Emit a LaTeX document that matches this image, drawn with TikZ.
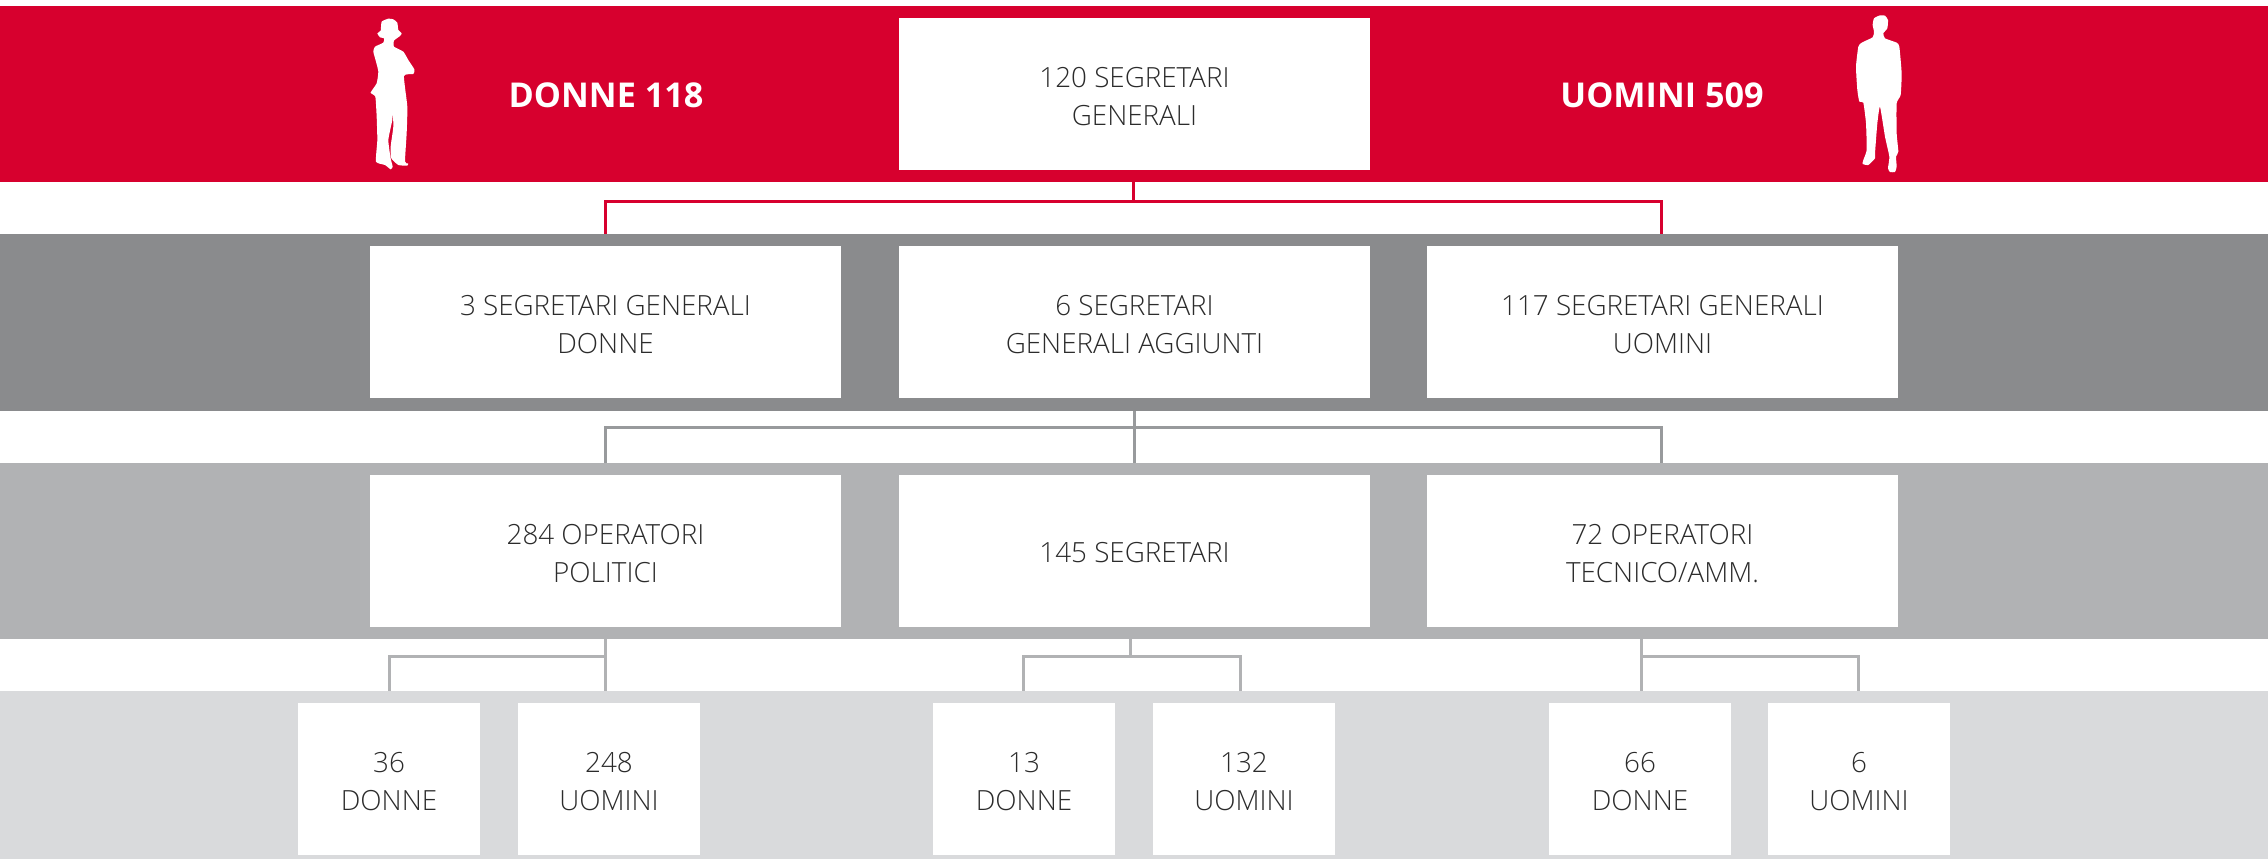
\documentclass[tikz,border=0pt]{standalone}
\usepackage{fontspec}
\setmainfont{Open Sans Light}[BoldFont={Open Sans Bold}]
\usetikzlibrary{backgrounds}
\definecolor{cred}{HTML}{D7002E}
\definecolor{cgray}{HTML}{8A8B8D}
\definecolor{cline}{HTML}{989A9C}
\definecolor{cmid}{HTML}{B1B2B4}
\definecolor{clight}{HTML}{D9DADC}
\definecolor{ctext}{HTML}{2B2B2B}
\newcommand{\Tp}{\rule{0pt}{24.6pt}}
\newcommand{\Ts}{\rule{0pt}{24pt}}
\tikzset{
 band/.style={fill=#1,draw=none,inner sep=0pt,outer sep=0pt,minimum width=2268pt,anchor=north west},
 wbox/.style={fill=white,draw=none,inner sep=0pt,outer sep=0pt,text=ctext,align=center,font=\fontsize{27.8}{38}\selectfont,minimum height=152pt,anchor=north west},
 big/.style={wbox,minimum width=471pt},
 small/.style={wbox,minimum width=182pt},
 head/.style={text=white,font=\fontsize{34.2}{38}\selectfont\bfseries,inner sep=0pt},
 conn/.style={draw=#1,line width=3pt},
 sil/.style={fill=white,draw=none}
}
\begin{document}
\begin{tikzpicture}[x=1pt,y=-1pt]
\useasboundingbox (0,0) rectangle (2268,859);
\node[band=cred,minimum height=176pt] (b1) at (0,6) {};
\node[band=cgray,minimum height=177pt] (b2) at (0,234) {};
\node[band=cmid,minimum height=176pt] (b3) at (0,463) {};
\node[band=clight,minimum height=168pt] (b4) at (0,691) {};
\node[big] (top) at (899,18) {\Tp 120 SEGRETARI\\GENERALI};
\node[head] (hd) at (606,95) {DONNE 118};
\node[head] (hu) at (1662,95) {UOMINI 509};
\node[big] (a1) at (370,246) {\Tp 3 SEGRETARI GENERALI\\DONNE};
\node[big] (a2) at (899,246) {\Tp 6 SEGRETARI\\GENERALI AGGIUNTI};
\node[big] (a3) at (1427,246) {\Tp 117 SEGRETARI GENERALI\\UOMINI};
\node[big] (p1) at (370,475) {\Tp 284 OPERATORI\\POLITICI};
\node[big] (p2) at (899,475) {\Ts 145 SEGRETARI};
\node[big] (p3) at (1427,475) {\Tp 72 OPERATORI\\TECNICO/AMM.};
\node[small] (c1) at (298,703) {\Tp 36\\DONNE};
\node[small] (c2) at (518,703) {\Tp 248\\UOMINI};
\node[small] (c3) at (933,703) {\Tp 13\\DONNE};
\node[small] (c4) at (1153,703) {\Tp 132\\UOMINI};
\node[small] (c5) at (1549,703) {\Tp 66\\DONNE};
\node[small] (c6) at (1768,703) {\Tp 6\\UOMINI};
\coordinate (j1) at (1133,201);
\coordinate (j2) at (1134,427.5);
\coordinate (j3) at (605.7,656);
\coordinate (j4) at (1130.7,656);
\coordinate (j5) at (1641.3,656);
\begin{pgfonlayer}{background}
\draw[conn=cred] (top.south -| j1) -- (j1);
\draw[conn=cred] (a1.north) |- (j1) -| ([xshift=-1pt]a3.north);
\draw[conn=cline] (a2.south) -- (p2.north);
\draw[conn=cline] (p1.north) |- (j2) -| ([xshift=-1pt]p3.north);
\draw[conn=cmid] (p1.south -| j3) -- (c2.north -| j3);
\draw[conn=cmid] (c1.north) |- (j3);
\draw[conn=cmid] (p2.south -| j4) -- (j4);
\draw[conn=cmid] ([xshift=-0.7pt]c3.north) |- (j4) -| ([xshift=-4pt]c4.north);
\draw[conn=cmid] (p3.south -| j5) -- (c5.north -| j5);
\draw[conn=cmid] (j5) -| ([xshift=-1pt]c6.north);
\end{pgfonlayer}
\begin{scope}[shift={(320,0)},x=0.3333pt,y=-0.3333pt]
\fill[sil] plot[smooth cycle,tension=0.3] coordinates {(205,56)(185,65)(182,92)(172,100)(180,112)(192,115)(190,128)(165,140)(160,155)(168,185)(175,215)(170,250)(152,278)(166,290)(170,350)(172,420)(168,485)(195,495)(212,508)(218,500)(212,475)(205,420)(217,360)(218,330)(220,380)(212,440)(214,475)(235,495)(262,497)(264,490)(255,485)(260,400)(262,320)(252,228)(280,222)(283,208)(265,180)(250,155)(222,140)(222,122)(240,108)(245,100)(235,90)(232,68)(220,58)};
\end{scope}
\begin{scope}[shift={(1800,0)},x=0.3333pt,y=-0.3333pt]
\fill[sil] plot[smooth cycle,tension=0.3] coordinates {(240,46)(222,55)(218,75)(222,95)(218,112)(185,128)(175,140)(168,200)(172,270)(178,305)(190,308)(198,370)(200,450)(190,480)(188,492)(205,495)(225,475)(225,460)(232,370)(240,320)(255,410)(268,470)(264,505)(270,516)(285,516)(290,500)(288,470)(295,455)(290,400)(290,310)(302,285)(305,220)(298,140)(290,128)(255,115)(250,100)(262,85)(264,60)(255,47)};
\end{scope}
\end{tikzpicture}
\end{document}
